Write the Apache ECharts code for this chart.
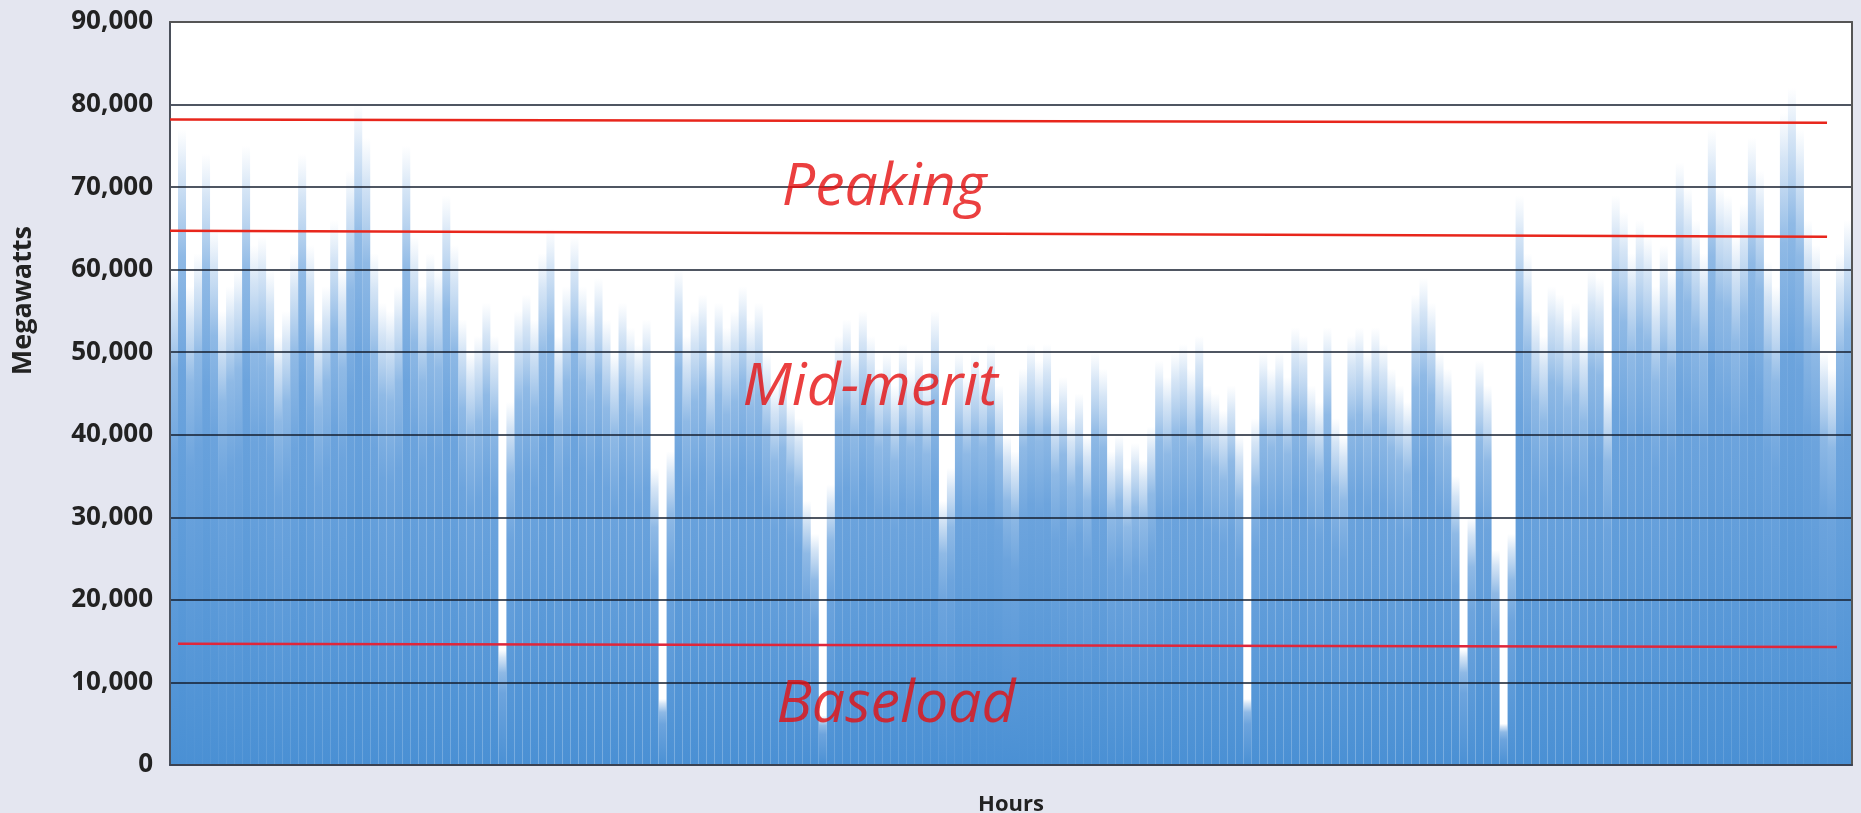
<!DOCTYPE html>
<html>
<head>
<meta charset="utf-8">
<script src="https://cdn.jsdelivr.net/npm/echarts@6/dist/echarts.min.js"></script>
<style>
html,body{margin:0;padding:0;background:#e4e6f0;}
#chart{width:1861px;height:813px;}
</style>
</head>
<body>
<div id="chart"></div>
<script>
// Hourly demand envelope (210 bins across the year, MW)
const loadMW = [
60000,77000,58000,62000,74000,65000,55000,58000,60000,75000,
63000,64000,60000,52000,55000,62000,74000,63000,54000,58000,
66000,60000,72000,80000,76000,62000,56000,55000,58000,75000,
64000,58000,62000,60000,69000,63000,54000,50000,52000,56000,
52000,14000,44000,55000,57000,54000,62000,65000,52000,58000,
64000,58000,55000,59000,54000,50000,56000,53000,51000,54000,
36000,8000,38000,60000,52000,55000,57000,50000,56000,53000,
55000,58000,54000,56000,50000,46000,48000,44000,42000,32000,
28000,6000,34000,52000,54000,50000,55000,52000,48000,50000,
46000,51000,48000,50000,47000,55000,32000,36000,50000,47000,
50000,48000,51000,46000,40000,38000,48000,51000,49000,51000,
44000,47000,42000,45000,40000,50000,48000,38000,40000,36000,
39000,37000,41000,49000,47000,50000,51000,48000,52000,46000,
45000,43000,46000,40000,8000,42000,50000,48000,50000,47000,
53000,52000,46000,44000,53000,42000,40000,52000,53000,50000,
53000,51000,48000,46000,44000,57000,59000,56000,50000,48000,
35000,14000,30000,49000,46000,26000,5000,28000,69000,62000,
55000,52000,58000,57000,54000,56000,52000,60000,59000,46000,
69000,67000,62000,66000,64000,58000,63000,60000,73000,70000,
66000,62000,77000,70000,69000,64000,68000,76000,72000,61000,
58000,79000,82000,77000,66000,63000,50000,48000,62000,66000
];
const binLabels = loadMW.map((_, i) => 'Bin ' + (i + 1));

// Dispatch band boundaries (hour, MW) pairs
const peakTop  = [[0, 78200], [8630, 77800]];
const peakBase = [[0, 64700], [8630, 64000]];
const baseTop  = [[42, 14700], [8682, 14300]];

// Band labels (hour, MW, text)
const bandLabels = [
  [3719, 69900, 'Peaking'],
  [3646, 45600, 'Mid-merit'],
  [3781, 7300, 'Baseload']
];

const yTickLabels = ['0','10,000','20,000','30,000','40,000','50,000','60,000','70,000','80,000','90,000'];

const chart = echarts.init(document.getElementById('chart'));
const gridLineColor = 'rgba(20,30,45,0.75)';
chart.setOption({
  backgroundColor: '#e4e6f0',
  animation: false,
  grid: {
    left: 170, right: 9, top: 22, bottom: 48,
    outerBoundsMode: 'none', containLabel: false,
    show: true, backgroundColor: '#ffffff', borderWidth: 0
  },
  xAxis: [
    {
      type: 'category', data: binLabels, boundaryGap: true,
      position: 'bottom',
      name: 'Hours', nameLocation: 'middle', nameGap: 29,
      nameTextStyle: { fontFamily: 'Open Sans', fontWeight: 'bold', fontSize: 22, color: '#222' },
      axisLine: { show: true, lineStyle: { color: '#3a4252', width: 2 } },
      axisTick: { show: false }, axisLabel: { show: false }, splitLine: { show: false },
      z: 4
    },
    {
      type: 'value', min: 0, max: 8760, position: 'top',
      axisLine: { show: true, onZero: false, lineStyle: { color: '#555', width: 2 } },
      axisTick: { show: false }, axisLabel: { show: false }, splitLine: { show: false },
      z: 4
    }
  ],
  yAxis: [
    {
      type: 'value', min: 0, max: 90000, interval: 10000,
      axisLine: { show: true, lineStyle: { color: '#4a4f5a', width: 2 } },
      axisTick: { show: false },
      axisLabel: {
        margin: 17, fontFamily: 'Open Sans', fontWeight: 'bold', fontSize: 26, color: '#222',
        formatter: v => yTickLabels[Math.round(v / 10000)]
      },
      splitLine: { show: true, lineStyle: { color: gridLineColor, width: 2 } },
      z: 4
    },
    {
      type: 'value', min: 0, max: 90000, position: 'right',
      axisLine: { show: true, lineStyle: { color: '#555', width: 2 } },
      axisTick: { show: false }, axisLabel: { show: false }, splitLine: { show: false },
      z: 4
    }
  ],
  graphic: [
    {
      type: 'text', left: 10, top: 226, rotation: Math.PI / 2,
      style: { text: 'Megawatts', fontFamily: 'Open Sans', fontWeight: 'bold', fontSize: 27, fill: '#222' }
    }
  ],
  series: [
    {
      type: 'bar', name: 'Load', data: loadMW,
      xAxisIndex: 0, yAxisIndex: 0,
      barCategoryGap: '0%', barGap: '0%',
      itemStyle: {
        borderWidth: 0,
        color: {
          type: 'linear', x: 0, y: 0, x2: 0, y2: 1,
          colorStops: [
            { offset: 0, color: 'rgba(150,190,232,0.0)' },
            { offset: 0.07, color: 'rgba(135,180,228,0.35)' },
            { offset: 0.2, color: 'rgba(115,168,223,0.8)' },
            { offset: 0.38, color: 'rgba(104,161,220,0.97)' },
            { offset: 1, color: '#4a90d4' }
          ]
        }
      },
      z: 2
    },
    {
      type: 'line', data: peakTop, xAxisIndex: 1, yAxisIndex: 0,
      symbol: 'none', lineStyle: { color: '#e8261c', width: 2.5 }, z: 6
    },
    {
      type: 'line', data: peakBase, xAxisIndex: 1, yAxisIndex: 0,
      symbol: 'none', lineStyle: { color: '#e8261c', width: 2.5 }, z: 6
    },
    {
      type: 'line', data: baseTop, xAxisIndex: 1, yAxisIndex: 0,
      symbol: 'none', lineStyle: { color: '#e0263a', width: 2.5 }, z: 6
    },
    {
      type: 'scatter', data: bandLabels, xAxisIndex: 1, yAxisIndex: 0,
      symbolSize: 1, itemStyle: { color: 'rgba(0,0,0,0)' }, z: 7,
      label: {
        show: true, position: 'inside',
        formatter: p => p.value[2],
        fontFamily: 'Open Sans', fontStyle: 'italic', fontSize: 59, color: '#e60f0f'
      }
    }
  ]
});
</script>
</body>
</html>
